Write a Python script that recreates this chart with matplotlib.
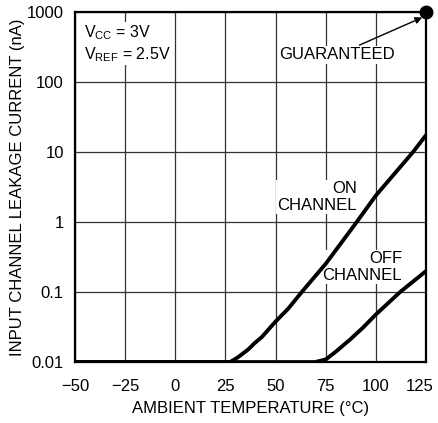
import matplotlib
matplotlib.use("Agg")
import matplotlib.pyplot as plt
import matplotlib.transforms as mtransforms

plt.rcParams['font.family'] = ['Liberation Sans', 'DejaVu Sans']
plt.rcParams['mathtext.fontset'] = 'custom'
plt.rcParams['mathtext.rm'] = 'Liberation Sans'

# DATA
# leakage current (nA)

on_temp = [-50, 27.3, 31.4, 36.4, 39.5, 43, 50, 56.3, 63, 75, 90.4, 100, 118.5, 125]
on_leak = [0.01, 0.01, 0.0118, 0.0152, 0.0186, 0.0226, 0.038, 0.058, 0.1, 0.254,
           1.0, 2.4, 10, 17.5]

off_temp = [-50, 69.6, 75, 80.4, 87.1, 93.5, 100, 112, 125]
off_leak = [0.01, 0.01, 0.0109, 0.0144, 0.021, 0.031, 0.048, 0.1, 0.2]

guaranteed_temp = 125
guaranteed_leak = 1000

x_ticks = [-50, -25, 0, 25, 50, 75, 100, 125]
x_labels = ["\u221250", "\u221225", "0", "25", "50", "75", "100", "125"]
y_ticks = [0.01, 0.1, 1, 10, 100, 1000]
y_labels = ["0.01", "0.1", "1", "10", "100", "1000"]


# PLOT

fig = plt.figure(figsize=(4.38, 4.23), dpi=100)
ax = fig.add_axes([0.171, 0.144, 0.802, 0.828])

ax.set_yscale("log")
ax.set_xlim(-50, 125)
ax.set_ylim(0.01, 1000)
ax.set_axisbelow(True)

ax.plot(on_temp, on_leak, color="black", lw=2.8, solid_capstyle="butt",
        solid_joinstyle="round", zorder=3)
ax.plot(off_temp, off_leak, color="black", lw=2.8, solid_capstyle="butt",
        solid_joinstyle="round", zorder=3)
ax.plot([guaranteed_temp], [guaranteed_leak], "o", color="black",
        markersize=9, clip_on=False, zorder=5)

ax.set_xticks(x_ticks)
ax.set_xticklabels(x_labels)
ax.set_yticks(y_ticks)
ax.set_yticklabels(y_labels)
ax.minorticks_off()
ax.tick_params(length=0, labelsize=12)
ax.tick_params(axis="x", pad=12)
ax.tick_params(axis="y", pad=8)
ax.grid(True, color="#333333", lw=0.9)

# last x label sits a little left so it stays inside the figure
last = ax.get_xticklabels()[-1]
last.set_transform(last.get_transform() +
                   mtransforms.ScaledTranslation(-6 / 100, 0, fig.dpi_scale_trans))

for s in ax.spines.values():
    s.set_linewidth(1.6)

ax.set_xlabel("AMBIENT TEMPERATURE (\u00b0C)", fontsize=12, labelpad=5)
ax.set_ylabel("INPUT CHANNEL LEAKAGE CURRENT (nA)", fontsize=12, labelpad=1)

box = dict(facecolor="white", edgecolor="none", pad=0.8)

ax.text(-45.5, 355, "V$_{\\mathregular{CC}}$ = 3V\nV$_{\\mathregular{REF}}$ = 2.5V",
        fontsize=11.5, ha="left", va="center", linespacing=1.25, bbox=box, zorder=2)

ax.annotate("GUARANTEED", xy=(123, 830), xytext=(109.5, 243),
            fontsize=12, ha="right", va="center", bbox=box, zorder=2,
            arrowprops=dict(arrowstyle="-|>", color="black", lw=1.0,
                            mutation_scale=10, shrinkA=2, shrinkB=0))

ax.text(90.6, 2.27, "ON\nCHANNEL", fontsize=12, ha="right", va="center",
        multialignment="right", linespacing=1.2, bbox=box, zorder=2)
ax.text(113, 0.227, "OFF\nCHANNEL", fontsize=12, ha="right", va="center",
        multialignment="right", linespacing=1.2, bbox=box, zorder=2)

fig.savefig("out.png", dpi=100)
